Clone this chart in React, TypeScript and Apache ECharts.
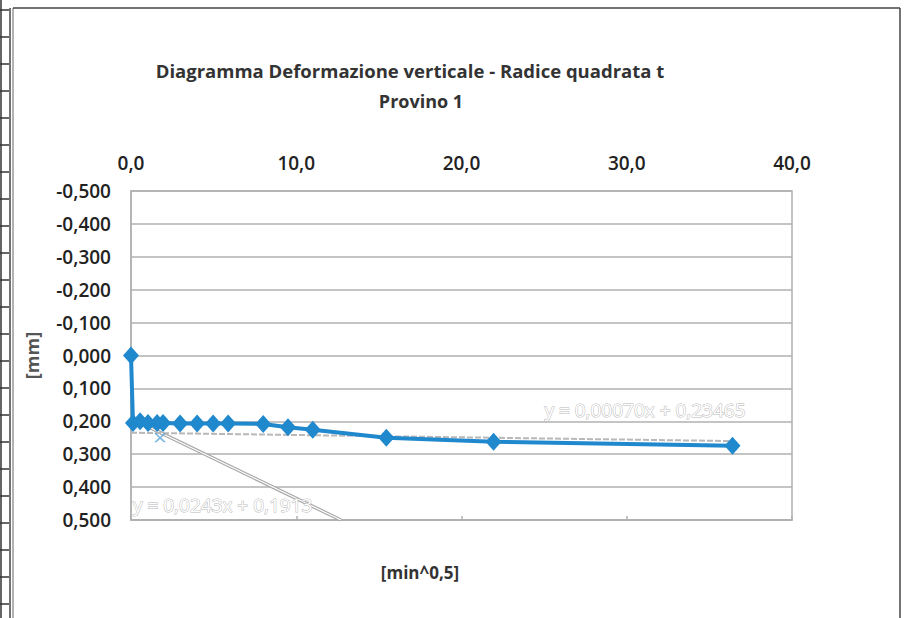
import React, { useEffect, useRef } from "react";
import * as echarts from "echarts";

// Measured series: x = sqrt(t) [min^0,5], y = vertical deformation [mm]
const sqrtTime = [0, 0.12, 0.55, 1.03, 1.58, 1.94, 2.97, 4.0, 4.97, 5.88, 8.0, 9.5, 11.0, 15.45, 21.94, 36.4];
const deformation = [0, 0.205, 0.2, 0.205, 0.205, 0.205, 0.207, 0.207, 0.207, 0.207, 0.208, 0.218, 0.226, 0.25, 0.262, 0.274];

// Extra cross marker seen under the curve
const crossX = [1.76];
const crossY = [0.25];

// Trendlines (slope, intercept, x range)
const trendFast = { slope: 0.0243, intercept: 0.1913, from: 0.5, to: 12.7, label: "y = 0,0243x + 0,1913" };
const trendSlow = { slope: 0.0007, intercept: 0.23465, from: 0, to: 36.4, label: "y = 0,00070x + 0,23465" };

const xTicks = [0, 10, 20, 30, 40];
const yTicks = [-0.5, -0.4, -0.3, -0.2, -0.1, 0, 0.1, 0.2, 0.3, 0.4, 0.5];

const TITLE = "Diagramma Deformazione verticale - Radice quadrata t";
const SUBTITLE = "Provino 1";
const X_NAME = "[min^0,5]";
const Y_NAME = "[mm]";

const FONT = "'Open Sans', 'Noto Sans', sans-serif";
const BLUE = "#2088cc";

function trendPoints(t: { slope: number; intercept: number; from: number; to: number }) {
  return [
    [t.from, t.slope * t.from + t.intercept],
    [t.to, t.slope * t.to + t.intercept],
  ];
}

const fmtY = (v: number) => {
  const r = Math.round(v * 1000) / 1000;
  return (Math.abs(r) < 1e-9 ? 0 : r).toFixed(3).replace(".", ",");
};
const fmtX = (v: number) => v.toFixed(1).replace(".", ",");

export default function App() {
  const ref = useRef<HTMLDivElement>(null);

  useEffect(() => {
    if (!ref.current) return;
    const chart = echarts.init(ref.current, undefined, { renderer: "svg" });

    const leftStubs: any[] = [];
    for (let y = 10; y < 618; y += 27) {
      leftStubs.push({
        type: "line",
        shape: { x1: 0, y1: y, x2: 9, y2: y },
        style: { stroke: "#333", lineWidth: 1.5 },
        silent: true,
      });
    }

    const option: any = {
      animation: false,
      backgroundColor: "#ffffff",
      grid: {
        left: 131,
        top: 191,
        width: 661,
        height: 329,
        show: true,
        borderColor: "#b0b0b0",
        borderWidth: 1.5,
        backgroundColor: "transparent",
      },
      xAxis: [
        {
          type: "value",
          position: "top",
          min: xTicks[0],
          max: xTicks[xTicks.length - 1],
          interval: xTicks[1] - xTicks[0],
          axisLine: { show: false },
          axisTick: { show: false },
          splitLine: { show: false },
          axisLabel: {
            formatter: fmtX,
            fontFamily: FONT,
            fontSize: 19,
            fontWeight: 600,
            color: "#222",
            margin: 19,
          },
        },
        {
          type: "value",
          position: "bottom",
          min: xTicks[0],
          max: xTicks[xTicks.length - 1],
          interval: xTicks[1] - xTicks[0],
          axisLine: { show: true, onZero: true, lineStyle: { color: "#b0b0b0", width: 1.5 } },
          axisTick: { show: true, length: 4, inside: true, lineStyle: { color: "#b0b0b0", width: 1.5 } },
          axisLabel: { show: false },
          splitLine: { show: false },
        },
      ],
      yAxis: {
        type: "value",
        inverse: true,
        min: yTicks[0],
        max: yTicks[yTicks.length - 1],
        interval: 0.1,
        name: Y_NAME,
        nameLocation: "middle",
        nameGap: 90,
        nameRotate: 90,
        nameTextStyle: { fontFamily: FONT, fontSize: 18, fontWeight: "bold", color: "#555" },
        axisLine: { show: true, onZero: false, lineStyle: { color: "#b0b0b0", width: 1.5 } },
        axisTick: { show: false },
        splitLine: { show: true, lineStyle: { color: "#b0b0b0", width: 1.5 } },
        axisLabel: {
          formatter: fmtY,
          fontFamily: FONT,
          fontSize: 19,
          fontWeight: 600,
          color: "#222",
          margin: 20,
        },
      },
      graphic: [
        { type: "line", shape: { x1: 10, y1: 8, x2: 10, y2: 618 }, style: { stroke: "#444", lineWidth: 1.5 }, silent: true },
        { type: "line", shape: { x1: 13, y1: 8, x2: 13, y2: 618 }, style: { stroke: "#666", lineWidth: 1 }, silent: true },
        { type: "line", shape: { x1: 13, y1: 8, x2: 900, y2: 8 }, style: { stroke: "#444", lineWidth: 1.5 }, silent: true },
        { type: "line", shape: { x1: 900, y1: 8, x2: 900, y2: 618 }, style: { stroke: "#444", lineWidth: 1.5 }, silent: true },
        { type: "line", shape: { x1: 1, y1: 0, x2: 1, y2: 618 }, style: { stroke: "#333", lineWidth: 1.5 }, silent: true },
        ...leftStubs,
        {
          type: "text",
          x: 410,
          y: 70,
          style: { text: TITLE, textAlign: "center", textVerticalAlign: "middle", font: `bold 18.5px ${FONT}`, fill: "#333" },
          silent: true,
        },
        {
          type: "text",
          x: 421,
          y: 101,
          style: { text: SUBTITLE, textAlign: "center", textVerticalAlign: "middle", font: `bold 18px ${FONT}`, fill: "#333" },
          silent: true,
        },
        {
          type: "text",
          x: 420,
          y: 572,
          style: { text: X_NAME, textAlign: "center", textVerticalAlign: "middle", font: `bold 17px ${FONT}`, fill: "#333" },
          silent: true,
        },
        {
          type: "text",
          x: 645,
          y: 410,
          style: {
            text: trendSlow.label,
            textAlign: "center",
            textVerticalAlign: "middle",
            font: `19px ${FONT}`,
            fill: "#ffffff",
            stroke: "#b8b8b8",
            lineWidth: 1,
          },
          silent: true,
          z: 100,
        },
        {
          type: "text",
          x: 133,
          y: 505,
          style: {
            text: trendFast.label,
            textAlign: "left",
            textVerticalAlign: "middle",
            font: `19px ${FONT}`,
            fill: "#ffffff",
            stroke: "#b8b8b8",
            lineWidth: 1,
          },
          silent: true,
          z: 100,
        },
      ],
      series: [
        {
          name: "trend fast outer",
          type: "line",
          data: trendPoints(trendFast),
          symbol: "none",
          lineStyle: { color: "#a8a8a8", width: 3.5 },
          z: 1,
          silent: true,
        },
        {
          name: "trend fast inner",
          type: "line",
          data: trendPoints(trendFast),
          symbol: "none",
          lineStyle: { color: "#ffffff", width: 1.2 },
          z: 2,
          silent: true,
        },
        {
          name: "trend slow",
          type: "line",
          data: trendPoints(trendSlow),
          symbol: "none",
          lineStyle: { color: "#b8b8b8", width: 2, type: [6, 2] },
          z: 2,
          silent: true,
        },
        {
          name: "cross",
          type: "scatter",
          data: crossX.map((x, i) => [x, crossY[i]]),
          symbol: "path://M0,0L2,0L5,3L8,0L10,0L6,4L10,8L8,8L5,5L2,8L0,8L4,4Z",
          symbolSize: [12, 9],
          itemStyle: { color: "#5aa5d8" },
          z: 3,
        },
        {
          name: "Provino 1",
          type: "line",
          data: sqrtTime.map((x, i) => [x, deformation[i]]),
          symbol: "diamond",
          symbolSize: [16, 18],
          showAllSymbol: true,
          itemStyle: { color: BLUE },
          lineStyle: { color: BLUE, width: 4 },
          z: 5,
        },
      ],
    };

    chart.setOption(option);
    return () => chart.dispose();
  }, []);

  return (
    <div
      ref={ref}
      style={{ position: "absolute", left: 0, top: 0, width: 909, height: 618, background: "#fff" }}
    />
  );
}
